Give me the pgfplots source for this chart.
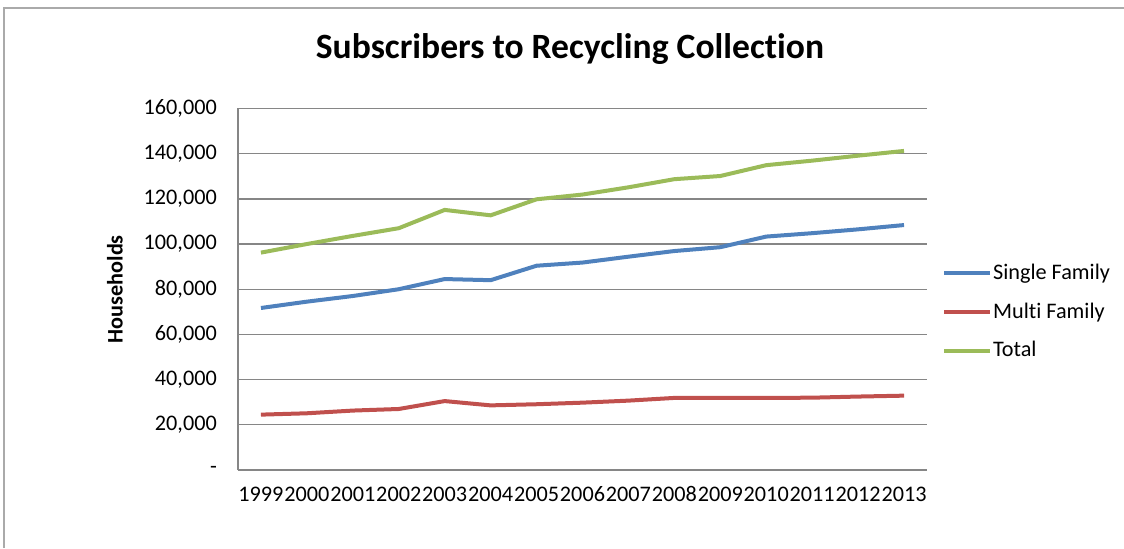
\documentclass[border=0pt]{standalone}
\usepackage{fontspec}
\setmainfont[Ligatures=NoCommon]{Carlito}
\usepackage{pgfplots}
\pgfplotsset{compat=1.18}
\definecolor{sfam}{HTML}{4F81BD}
\definecolor{mfam}{HTML}{C0504D}
\definecolor{tot}{HTML}{9BBB59}
\definecolor{gridc}{HTML}{868686}

\begin{document}
\begin{tikzpicture}
% page frame: 1124 x 548 px at 0.45pt per px
\path[use as bounding box] (-107.1pt,-35.1pt) rectangle (398.7pt,211.5pt);
\draw[gridc!70, line width=0.9pt] (-105.1pt,-35.1pt) -- (-105.1pt,207.7pt) -- (398.7pt,207.7pt);
\node[font=\bfseries\fontsize{16}{19}\selectfont] at (149.4pt,189.5pt) {Subscribers to Recycling Collection};
\begin{axis}[
    at={(0pt,0pt)}, anchor=south west,
    scale only axis,
    width=310.05pt, height=162.7pt,
    xmin=-0.5, xmax=14.5,
    ymin=0, ymax=160000,
    scaled y ticks=false,
    xtick=data,
    xticklabels={1999,2000,2001,2002,2003,2004,2005,2006,2007,2008,2009,2010,2011,2012,2013},
    ytick={0,20000,...,160000},
    yticklabels={{-\hspace{5.4pt}},{20,000},{40,000},{60,000},{80,000},{100,000},{120,000},{140,000},{160,000}},
    major tick length=0pt,
    axis x line*=bottom, axis y line*=left,
    axis line style={gridc, line width=0.6pt},
    ymajorgrids=true,
    grid style={gridc, line width=0.6pt},
    tick label style={font=\fontsize{10}{12}\selectfont},
    xticklabel style={yshift=-4pt, inner xsep=0pt},
    yticklabel style={xshift=-6pt},
    ylabel={\bfseries Households},
    ylabel style={font=\fontsize{10}{12}\selectfont},
    every axis y label/.style={at={(-55.4pt,81.35pt)}, rotate=90, anchor=center},
    legend style={at={(316.8pt,71.1pt)}, anchor=west, draw=none, fill=none,
        font=\fontsize{10}{12}\selectfont, row sep=5pt, inner xsep=0pt,
        nodes={inner xsep=0.3pt}},
    legend cell align=left,
    legend image code/.code={\draw[#1] (0pt,0pt) -- (20.7pt,0pt);},
    every axis plot/.append style={line width=1.8pt, mark=none},
]
\addplot[sfam] coordinates {(0,71700) (1,74500) (2,77000) (3,80000) (4,84500) (5,84000) (6,90400) (7,91800) (8,94400) (9,96900) (10,98600) (11,103300) (12,104800) (13,106500) (14,108400)};
\addplot[mfam] coordinates {(0,24500) (1,25100) (2,26300) (3,27000) (4,30500) (5,28600) (6,29100) (7,29800) (8,30700) (9,31900) (10,31900) (11,31900) (12,32000) (13,32500) (14,32900)};
\addplot[tot] coordinates {(0,96200) (1,100000) (2,103600) (3,107000) (4,115100) (5,112700) (6,119800) (7,121900) (8,125100) (9,128700) (10,130100) (11,134900) (12,136900) (13,139100) (14,141200)};
\legend{Single Family,Multi Family,Total}
\end{axis}
\end{tikzpicture}
\end{document}
